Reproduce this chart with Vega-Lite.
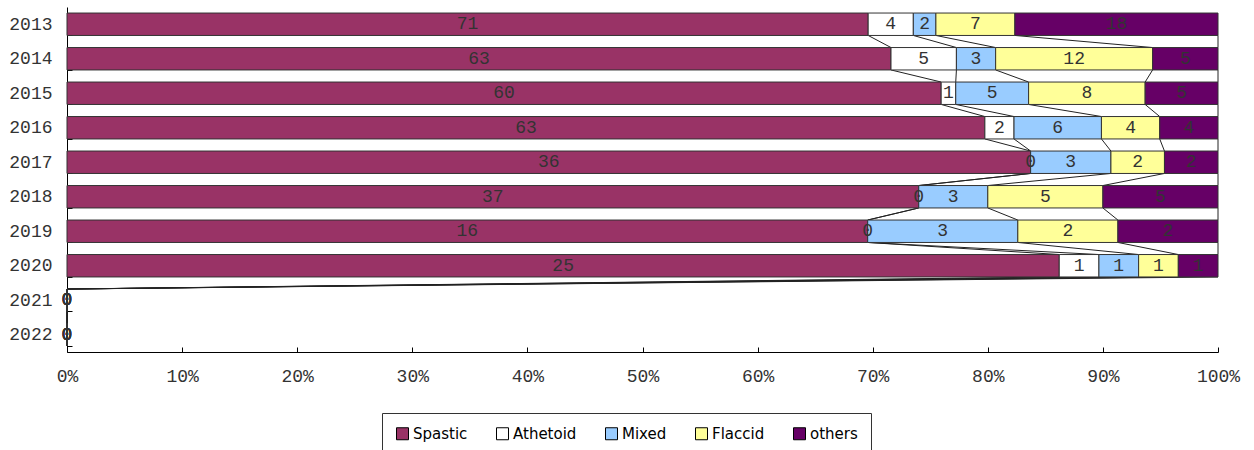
{
  "$schema": "https://vega.github.io/schema/vega-lite/v6.json",
  "autosize": {"type": "none"},
  "padding": {"left": 67, "top": 7, "right": 36, "bottom": 98},
  "width": 1151,
  "height": 345,
  "background": "white",
  "config": {"view": {"stroke": null}},
  "data": {"values": [
    {"year": "2013", "type": "Spastic", "order": 1, "value": 71},
    {"year": "2013", "type": "Athetoid", "order": 2, "value": 4},
    {"year": "2013", "type": "Mixed", "order": 3, "value": 2},
    {"year": "2013", "type": "Flaccid", "order": 4, "value": 7},
    {"year": "2013", "type": "others", "order": 5, "value": 18},
    {"year": "2014", "type": "Spastic", "order": 1, "value": 63},
    {"year": "2014", "type": "Athetoid", "order": 2, "value": 5},
    {"year": "2014", "type": "Mixed", "order": 3, "value": 3},
    {"year": "2014", "type": "Flaccid", "order": 4, "value": 12},
    {"year": "2014", "type": "others", "order": 5, "value": 5},
    {"year": "2015", "type": "Spastic", "order": 1, "value": 60},
    {"year": "2015", "type": "Athetoid", "order": 2, "value": 1},
    {"year": "2015", "type": "Mixed", "order": 3, "value": 5},
    {"year": "2015", "type": "Flaccid", "order": 4, "value": 8},
    {"year": "2015", "type": "others", "order": 5, "value": 5},
    {"year": "2016", "type": "Spastic", "order": 1, "value": 63},
    {"year": "2016", "type": "Athetoid", "order": 2, "value": 2},
    {"year": "2016", "type": "Mixed", "order": 3, "value": 6},
    {"year": "2016", "type": "Flaccid", "order": 4, "value": 4},
    {"year": "2016", "type": "others", "order": 5, "value": 4},
    {"year": "2017", "type": "Spastic", "order": 1, "value": 36},
    {"year": "2017", "type": "Athetoid", "order": 2, "value": 0},
    {"year": "2017", "type": "Mixed", "order": 3, "value": 3},
    {"year": "2017", "type": "Flaccid", "order": 4, "value": 2},
    {"year": "2017", "type": "others", "order": 5, "value": 2},
    {"year": "2018", "type": "Spastic", "order": 1, "value": 37},
    {"year": "2018", "type": "Athetoid", "order": 2, "value": 0},
    {"year": "2018", "type": "Mixed", "order": 3, "value": 3},
    {"year": "2018", "type": "Flaccid", "order": 4, "value": 5},
    {"year": "2018", "type": "others", "order": 5, "value": 5},
    {"year": "2019", "type": "Spastic", "order": 1, "value": 16},
    {"year": "2019", "type": "Athetoid", "order": 2, "value": 0},
    {"year": "2019", "type": "Mixed", "order": 3, "value": 3},
    {"year": "2019", "type": "Flaccid", "order": 4, "value": 2},
    {"year": "2019", "type": "others", "order": 5, "value": 2},
    {"year": "2020", "type": "Spastic", "order": 1, "value": 25},
    {"year": "2020", "type": "Athetoid", "order": 2, "value": 1},
    {"year": "2020", "type": "Mixed", "order": 3, "value": 1},
    {"year": "2020", "type": "Flaccid", "order": 4, "value": 1},
    {"year": "2020", "type": "others", "order": 5, "value": 1},
    {"year": "2021", "type": "Spastic", "order": 1, "value": 0},
    {"year": "2021", "type": "Athetoid", "order": 2, "value": 0},
    {"year": "2021", "type": "Mixed", "order": 3, "value": 0},
    {"year": "2021", "type": "Flaccid", "order": 4, "value": 0},
    {"year": "2021", "type": "others", "order": 5, "value": 0},
    {"year": "2022", "type": "Spastic", "order": 1, "value": 0},
    {"year": "2022", "type": "Athetoid", "order": 2, "value": 0},
    {"year": "2022", "type": "Mixed", "order": 3, "value": 0},
    {"year": "2022", "type": "Flaccid", "order": 4, "value": 0},
    {"year": "2022", "type": "others", "order": 5, "value": 0}
  ]},
  "transform": [
    {"joinaggregate": [{"op": "sum", "field": "value", "as": "total"}], "groupby": ["year"]},
    {"window": [{"op": "sum", "field": "value", "as": "cum"}], "groupby": ["year"], "sort": [{"field": "order", "order": "ascending"}], "frame": [null, 0]},
    {"calculate": "datum.total > 0 ? datum.cum / datum.total : 0", "as": "x1"},
    {"calculate": "datum.total > 0 ? (datum.cum - datum.value) / datum.total : 0", "as": "x0"},
    {"calculate": "(datum.x0 + datum.x1) / 2", "as": "xm"},
    {"window": [{"op": "lead", "field": "x1", "as": "nx1"}, {"op": "lead", "field": "year", "as": "nyear"}], "groupby": ["type"], "sort": [{"field": "year", "order": "ascending"}]}
  ],
  "encoding": {
    "y": {
      "field": "year", "type": "ordinal",
      "scale": {"paddingInner": 0.35, "paddingOuter": 0.175},
      "axis": {
        "title": null, "domainColor": "#000", "tickColor": "#000", "tickBand": "extent", "tickSize": -5,
        "labelFont": "Liberation Mono", "labelFontSize": 18, "labelColor": "#333", "labelPadding": 20
      }
    }
  },
  "layer": [
    {
      "mark": {"type": "rule", "color": "#222", "strokeWidth": 1},
      "transform": [{"filter": "datum.nyear != null"}],
      "encoding": {
        "x": {"field": "x1", "type": "quantitative"},
        "x2": {"field": "nx1"},
        "y": {"field": "year", "type": "ordinal", "bandPosition": 1},
        "y2": {"field": "nyear", "bandPosition": 0}
      }
    },
    {
      "mark": {"type": "bar", "stroke": "#333", "strokeWidth": 1},
      "encoding": {
        "x": {
          "field": "x0", "type": "quantitative",
          "scale": {"domain": [0, 1], "nice": false},
          "axis": {
            "title": null, "values": [0, 0.1, 0.2, 0.3, 0.4, 0.5, 0.6, 0.7, 0.8, 0.9, 1], "format": ".0%",
            "grid": false, "domainColor": "#000", "tickColor": "#000", "tickSize": -5, "labelFlush": false,
            "labelFont": "Liberation Mono", "labelFontSize": 18, "labelColor": "#333", "labelPadding": 20
          }
        },
        "x2": {"field": "x1"},
        "color": {
          "field": "type", "type": "nominal",
          "scale": {"domain": ["Spastic", "Athetoid", "Mixed", "Flaccid", "others"], "range": ["#993366", "#FFFFFF", "#99CCFF", "#FFFF99", "#660066"]},
          "legend": {
            "title": null, "orient": "none", "legendX": 315, "legendY": 406, "direction": "horizontal", "columns": 5,
            "columnPadding": 26, "padding": 13, "strokeColor": "#333", "fillColor": "white",
            "symbolType": "square", "symbolSize": 144, "symbolStrokeColor": "#000", "symbolStrokeWidth": 1, "symbolOffset": 0,
            "labelFont": "DejaVu Sans", "labelFontSize": 15, "labelColor": "#000", "labelOffset": 3
          }
        }
      }
    },
    {
      "mark": {"type": "text", "font": "Liberation Mono", "fontSize": 18, "color": "#333", "baseline": "middle", "align": "center"},
      "encoding": {
        "x": {"field": "xm", "type": "quantitative"},
        "text": {"field": "value", "type": "quantitative"}
      }
    }
  ]
}
